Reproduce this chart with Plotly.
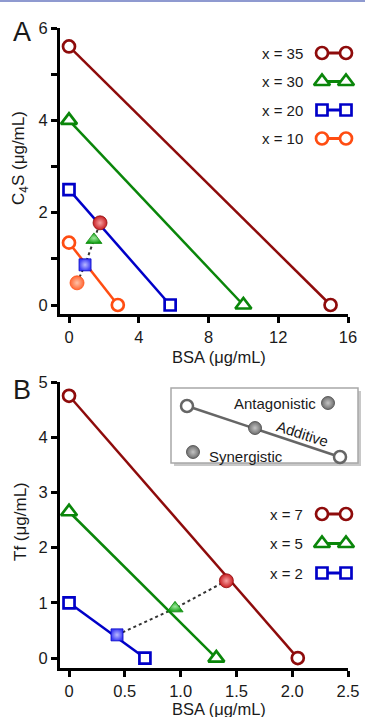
import plotly.graph_objects as go

W, H = 365, 717

# ---------------- data ----------------
# Panel A : C4S vs BSA isoboles
a_labels = ["x = 35", "x = 30", "x = 20", "x = 10"]
a_bsa_35 = [0, 15.0]
a_c4s_35 = [5.6, 0]
a_bsa_30 = [0, 10.0]
a_c4s_30 = [4.0, 0]
a_bsa_20 = [0, 5.8]
a_c4s_20 = [2.5, 0]
a_bsa_10 = [0, 2.8]
a_c4s_10 = [1.35, 0]
a_mix_bsa = [0.46, 0.92, 1.43, 1.78]
a_mix_c4s = [0.48, 0.87, 1.41, 1.78]
a_xticks = [0, 4, 8, 12, 16]
a_yticks = [0, 1, 2, 3, 4, 5, 6]
a_yticktext = ["0", "", "2", "", "4", "", "6"]

# Panel B : Tf vs BSA isoboles
b_labels = ["x = 7", "x = 5", "x = 2"]
b_bsa_7 = [0, 2.05]
b_tf_7 = [4.75, 0]
b_bsa_5 = [0, 1.32]
b_tf_5 = [2.65, 0]
b_bsa_2 = [0, 0.68]
b_tf_2 = [1.0, 0]
b_mix_bsa = [0.43, 0.95, 1.41]
b_mix_tf = [0.42, 0.90, 1.40]
b_xticks = [0, 0.5, 1.0, 1.5, 2.0, 2.5]
b_xticktext = ["0", "0.5", "1.0", "1.5", "2.0", "2.5"]
b_yticks = [0, 1, 2, 3, 4, 5]

# ---------------- styles ----------------
RED, GREEN, BLUE, ORANGE = "#8e0b0b", "#0a860a", "#0000c8", "#ff4d12"
FILL = {RED: ("#c81e22", "#f7a0a0"), GREEN: ("#12a012", "#9de89d"),
        BLUE: ("#3f3ff5", "#b9b9ff"), ORANGE: ("#ff6633", "#ffc2a8")}
SYM = {"circle": 12, "triangle-up": 14, "square": 11}
FONT = "Liberation Sans, Arial, Helvetica, sans-serif"
INK = "#1a1a1a"

fig = go.Figure()


def open_line(x, y, color, symbol, xa, ya, size=None, lw=2.5):
    fig.add_trace(go.Scatter(
        x=x, y=y, xaxis=xa, yaxis=ya, mode="lines+markers",
        line=dict(color=color, width=lw),
        marker=dict(symbol=symbol, size=size or SYM[symbol], color="white",
                    line=dict(color=color, width=2.7)),
        cliponaxis=False, showlegend=False, hoverinfo="skip"))


def mix_points(x, y, colors, symbols, xa, ya):
    fig.add_trace(go.Scatter(
        x=x, y=y, xaxis=xa, yaxis=ya, mode="lines",
        line=dict(color="#333333", width=2, dash="dot"),
        showlegend=False, hoverinfo="skip"))
    for xi, yi, c, s in zip(x, y, colors, symbols):
        base, light = FILL[c]
        fig.add_trace(go.Scatter(
            x=[xi], y=[yi], xaxis=xa, yaxis=ya, mode="markers",
            marker=dict(symbol=s, size=(14 if s != "square" else 12), color=base,
                        gradient=dict(type="radial", color=light),
                        line=dict(color=c, width=0.8)),
            cliponaxis=False, showlegend=False, hoverinfo="skip"))


# Panel A
open_line(a_bsa_35, a_c4s_35, RED, "circle", "x", "y")
open_line(a_bsa_30, a_c4s_30, GREEN, "triangle-up", "x", "y")
open_line(a_bsa_20, a_c4s_20, BLUE, "square", "x", "y")
open_line(a_bsa_10, a_c4s_10, ORANGE, "circle", "x", "y")
mix_points(a_mix_bsa, a_mix_c4s, [ORANGE, BLUE, GREEN, RED],
           ["circle", "square", "triangle-up", "circle"], "x", "y")

# Panel B
open_line(b_bsa_7, b_tf_7, RED, "circle", "x2", "y2")
open_line(b_bsa_5, b_tf_5, GREEN, "triangle-up", "x2", "y2")
open_line(b_bsa_2, b_tf_2, BLUE, "square", "x2", "y2")
mix_points(b_mix_bsa, b_mix_tf, [BLUE, GREEN, RED],
           ["square", "triangle-up", "circle"], "x2", "y2")

# ---------------- overlay (pixel) layer for legends / inset ----------------
annotations = []


def text(x, y, s, size=15, angle=0, xanchor="center"):
    annotations.append(dict(x=x, y=y, xref="x3", yref="y3", text=s, showarrow=False,
                            textangle=angle, xanchor=xanchor, yanchor="middle",
                            font=dict(family=FONT, size=size, color=INK)))


def legend_rows(labels, colors, symbols, y0, dy):
    for i, (lab, c, s) in enumerate(zip(labels, colors, symbols)):
        yy = y0 + i * dy
        text(305, yy, lab, size=15, xanchor="right")
        open_line([322, 346], [yy, yy], c, s, "x3", "y3", size=SYM[s], lw=3)


legend_rows(a_labels, [RED, GREEN, BLUE, ORANGE],
            ["circle", "triangle-up", "square", "circle"], 53, 28.5)
legend_rows(b_labels, [RED, GREEN, BLUE],
            ["circle", "triangle-up", "square"], 514, 29.5)

# inset key box
shapes = [
    dict(type="rect", xref="x3", yref="y3", x0=174, x1=361, y0=391, y1=466,
         fillcolor="#c8c8c8", line=dict(width=0), layer="below"),
    dict(type="rect", xref="x3", yref="y3", x0=171, x1=358, y0=388, y1=463,
         fillcolor="white", line=dict(color="#a8a8a8", width=1.5), layer="below"),
    dict(type="rect", xref="paper", yref="paper", x0=0, x1=1, y0=1 - 2 / H, y1=1,
         fillcolor="#8f9ad0", line=dict(width=0)),
]
GRAY = "#666666"
fig.add_trace(go.Scatter(
    x=[187, 340], y=[406, 457], xaxis="x3", yaxis="y3", mode="lines+markers",
    line=dict(color=GRAY, width=2.5),
    marker=dict(symbol="circle", size=12, color="white", line=dict(color=GRAY, width=2.5)),
    showlegend=False, hoverinfo="skip", cliponaxis=False))
fig.add_trace(go.Scatter(
    x=[255, 328, 193], y=[428, 403, 452], xaxis="x3", yaxis="y3", mode="markers",
    marker=dict(symbol="circle", size=13, color="#6e6e6e",
                gradient=dict(type="radial", color="#c4c4c4"),
                line=dict(color="#444444", width=0.8)),
    showlegend=False, hoverinfo="skip", cliponaxis=False))
text(275, 403, "Antagonistic", size=15)
text(302, 433, "Additive", size=15, angle=18)
text(246, 456, "Synergistic", size=15)

# panel letters and axis titles
text(22, 32, "A", size=27)
text(22, 390, "B", size=27)
text(20, 158, "C<sub>4</sub>S (μg/mL)", size=17, angle=-90)
text(20, 522, "Tf (μg/mL)", size=17, angle=-90)
text(219, 357, "BSA (μg/mL)", size=16.5)
text(219, 709, "BSA (μg/mL)", size=16.5)

# ---------------- axes ----------------
axis_common = dict(showline=True, linecolor="black", linewidth=3, ticks="outside",
                   ticklen=6, tickwidth=3, tickcolor="black", showgrid=False,
                   zeroline=False, automargin=False, fixedrange=True,
                   tickfont=dict(family=FONT, size=16.5, color=INK))
xdom = [60 / W, 348 / W]

fig.update_layout(
    width=W, height=H, autosize=False,
    margin=dict(l=0, r=0, t=0, b=0, pad=0),
    paper_bgcolor="white", plot_bgcolor="rgba(0,0,0,0)",
    font=dict(family=FONT, color=INK),
    showlegend=False,
    xaxis=dict(domain=xdom, range=[-0.516, 16], tickvals=a_xticks, anchor="y", **axis_common),
    yaxis=dict(domain=[1 - 314 / H, 1 - 28 / H], range=[-0.195, 6], tickvals=a_yticks,
               ticktext=a_yticktext, anchor="x", **axis_common),
    xaxis2=dict(domain=xdom, range=[-0.081, 2.5], tickvals=b_xticks, ticktext=b_xticktext,
                anchor="y2", **axis_common),
    yaxis2=dict(domain=[1 - 668 / H, 1 - 382 / H], range=[-0.18, 5], tickvals=b_yticks,
                anchor="x2", **axis_common),
    xaxis3=dict(domain=[0, 1], range=[0, W], visible=False, fixedrange=True, anchor="y3"),
    yaxis3=dict(domain=[0, 1], range=[H, 0], visible=False, fixedrange=True, anchor="x3"),
    annotations=annotations,
    shapes=shapes,
)

fig.write_html("out.html", config={"displayModeBar": False},
               post_script="document.body.style.margin='0px';document.body.style.overflow='hidden';")
